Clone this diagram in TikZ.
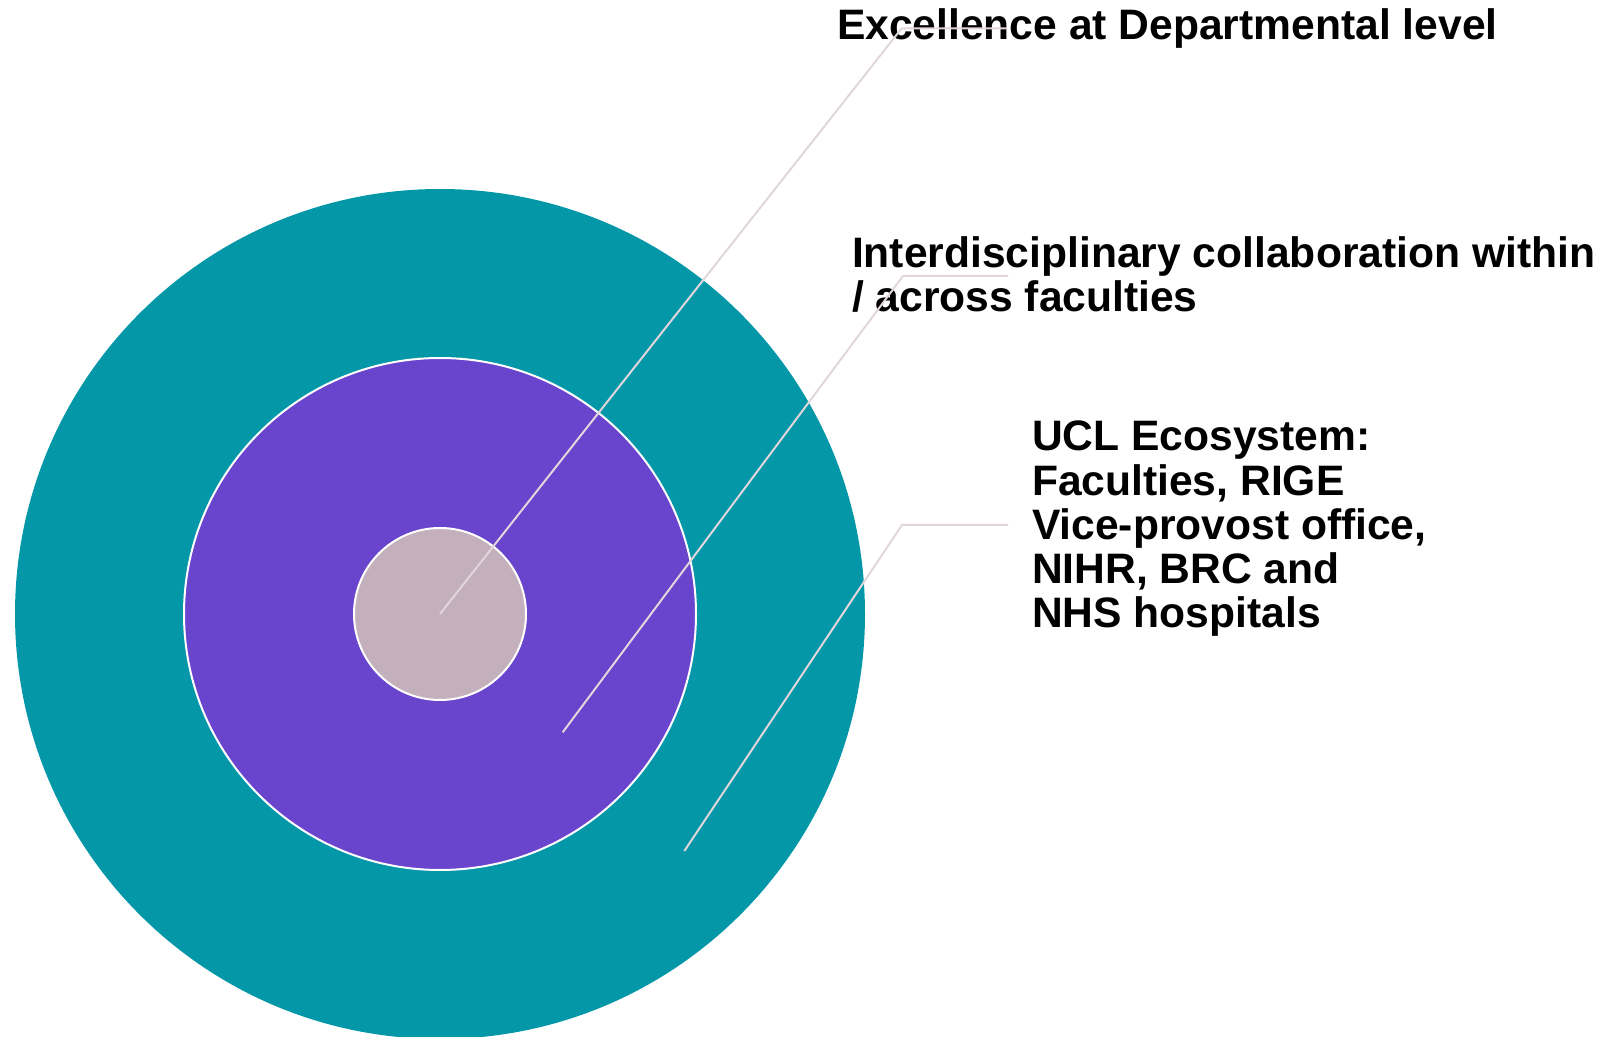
\documentclass[tikz,border=0pt]{standalone}
\usepackage{fontspec}
\setmainfont{Liberation Sans}
\definecolor{tealring}{HTML}{0397A8}
\definecolor{purplering}{HTML}{6944CC}
\definecolor{mauvering}{HTML}{C4B0BC}
\definecolor{leadercol}{HTML}{E0D6DB}
\begin{document}
\begin{tikzpicture}[x=0.5pt,y=-0.5pt,
  ring/.style={circle, inner sep=0pt, outer sep=0pt},
  lbl/.style={anchor=base west, inner sep=0pt, outer sep=0pt, align=left,
    font=\fontsize{21.3}{22.15}\selectfont\bfseries, text=black},
  leader/.style={draw=leadercol, line width=1pt}]
\useasboundingbox (0,0) rectangle (1613,1037);
\node[ring, fill=tealring, minimum size=425pt] (outer) at (440,614) {};
\node[ring, fill=purplering, draw=white, line width=1pt, minimum size=256pt] (middle) at (440,614) {};
\node[ring, fill=mauvering, draw=white, line width=1pt, minimum size=86pt] (inner) at (440,614) {};
% multi-line nodes: base anchor sits on the last line's baseline
\node[lbl] (t1) at (837,40) {Excellence at Departmental level};
\node[lbl] (t2) at (852,312) {Interdisciplinary collaboration within\\/ across faculties};
\node[lbl] (t3) at (1032,628) {UCL Ecosystem:\\Faculties, RIGE\\Vice-provost office,\\NIHR, BRC and\\NHS hospitals};
\coordinate (c1) at (901.7,28.3);
\coordinate (e1) at (1006.7,28.3);
\coordinate (s2) at (562.7,732.3);
\coordinate (c2) at (903,276);
\coordinate (e2) at (1008,276);
\coordinate (s3) at (684.3,851);
\coordinate (c3) at (902,525);
\coordinate (e3) at (1008,525);
\draw[leader] (inner.center) -- (c1) -- (e1);
\draw[leader] (s2) -- (c2) -- (e2);
\draw[leader] (s3) -- (c3) -- (e3);
\end{tikzpicture}
\end{document}
